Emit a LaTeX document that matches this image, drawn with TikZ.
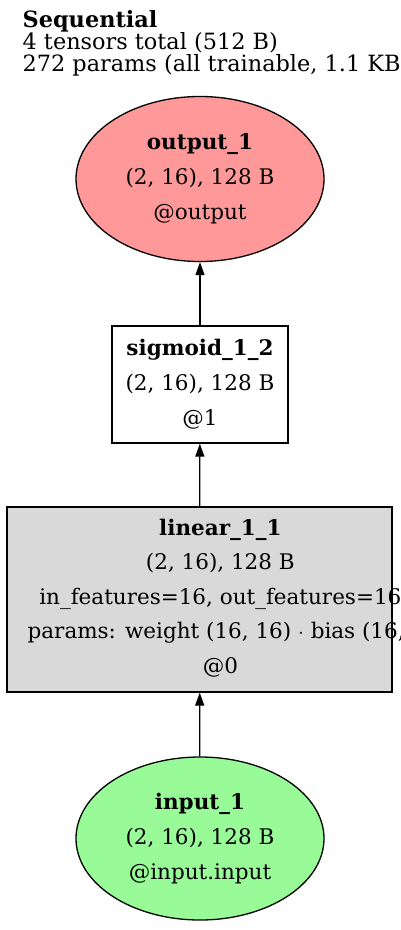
\documentclass[tikz,border=0pt]{standalone}
\usepackage{fontspec}
\setmainfont{DejaVu Serif}
\usetikzlibrary{shapes.geometric,arrows.meta}
\definecolor{outred}{HTML}{FF9999}
\definecolor{ingreen}{HTML}{98FB98}
\definecolor{laygray}{HTML}{D9D9D9}
\tikzset{
    tensor/.style={ellipse,draw,minimum width=248pt,minimum height=165pt,inner sep=0pt,align=center,font=\fontsize{21.5}{35}\selectfont},
    layer/.style={rectangle,draw,inner sep=0pt,align=center,font=\fontsize{21.5}{35}\selectfont},
    lbl/.style={align=center,inner sep=0pt,font=\fontsize{21.5}{34.5}\selectfont},
}
\begin{document}
\begin{tikzpicture}[x=1pt,y=-1pt,>={Triangle[length=13pt,width=9pt]},line width=1.3pt]
    \useasboundingbox (0,0) rectangle (400,930);
    \node[anchor=north west,align=left,inner sep=0pt,font=\fontsize{22.4}{22}\selectfont](head) at (22,10){\textbf{Sequential}\\4 tensors total (512 B)\\272 params (all trainable, 1.1 KB)};
    \node[tensor,fill=outred](out) at (200,179){\textbf{output\_1}\\(2, 16), 128 B\\@output};
    \node[layer,fill=white,minimum width=176pt,minimum height=117pt](sig) at (200,384.5){\textbf{sigmoid\_1\_2}\\(2, 16), 128 B\\@1};
    \node[layer,fill=laygray,minimum width=385pt,minimum height=185pt](lin) at (199.5,599.5){};
    \node[lbl,anchor=west](lintext) at (27,598){\textbf{linear\_1\_1}\\(2, 16), 128 B\\in\_features=16, out\_features=16\\params: weight (16, 16) $\cdot$ bias (16,)\\@0};
    \node[tensor,fill=ingreen,minimum height=163pt](inp) at (200,838.5){\textbf{input\_1}\\(2, 16), 128 B\\@input.input};
    % edges
    \draw[->](inp)--(lin);
    \draw[->](lin)--(sig);
    \draw[->](sig)--(out);
\end{tikzpicture}
\end{document}
